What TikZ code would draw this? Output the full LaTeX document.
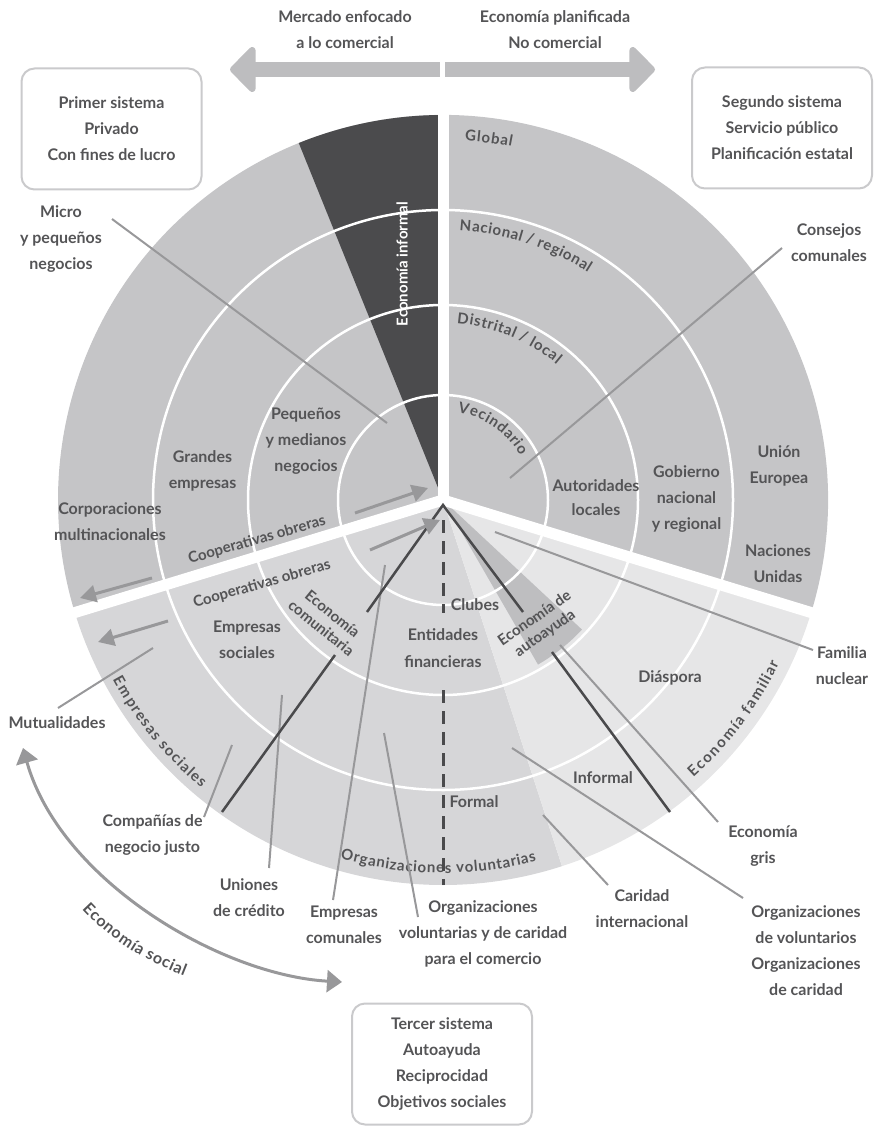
\documentclass[tikz,border=0pt]{standalone}
\usepackage{fontspec}
\setmainfont{Lato}
\usetikzlibrary{arrows.meta,decorations.text}

\definecolor{privgray}{HTML}{C5C5C7}
\definecolor{thirdgray}{HTML}{D6D6D8}
\definecolor{famgray}{HTML}{E6E6E7}
\definecolor{selfgray}{HTML}{BEBEC0}
\definecolor{informal}{HTML}{4B4B4D}
\definecolor{txt}{HTML}{545456}
\definecolor{leadgray}{HTML}{98989A}
\definecolor{darkgray}{HTML}{4A4A4C}
\definecolor{boxgray}{HTML}{CACACC}
\definecolor{topgray}{HTML}{BDBDBF}

\tikzset{
  lbl/.style={text=txt, font=\bfseries\fontsize{16}{26}\selectfont, align=center, inner sep=0pt},
  tight/.style={lbl, font=\bfseries\fontsize{15}{18}\selectfont},
  sysbox/.style={lbl, draw=boxgray, line width=2pt, rounded corners=13pt,
    minimum width=180pt, minimum height=121pt},
  ring/.style={white, line width=2.5pt},
  gap/.style={white, line width=11pt},
  leader/.style={leadgray, line width=2pt},
  darkleader/.style={darkgray, line width=2.5pt},
  flow/.style={leadgray, line width=3pt, -{Triangle[length=16pt,width=17pt]}},
  curved/.style={decorate, decoration={text effects along path, text={#1}, text align=left,
    text effects/.cd, text along path, fit text to path,
    characters={text=txt, inner sep=0pt, anchor=base, font=\bfseries\fontsize{15}{18}\selectfont}}},
  curvedbig/.style={decorate, decoration={text effects along path, text={#1}, text align=left,
    text effects/.cd, text along path, fit text to path,
    characters={text=txt, inner sep=0pt, anchor=base, font=\bfseries\fontsize{16}{18}\selectfont}}},
}

\begin{document}
\begin{tikzpicture}[x=1pt,y=-1pt]
\useasboundingbox (0,0) rectangle (874,1126);

% the wheel
\begin{scope}[shift={(443,500)}, x=1pt, y=1pt]
  \fill[privgray] (0,0) -- (-17:385) arc[start angle=-17, end angle=197, radius=385] -- cycle;
  \fill[thirdgray] (0,0) -- (197:385) arc[start angle=197, end angle=288, radius=385] -- cycle;
  \fill[famgray] (0,0) -- (288:385) arc[start angle=288, end angle=343, radius=385] -- cycle;
  \fill[selfgray] (0,0) -- (300:190) arc[start angle=300, end angle=317, radius=190] -- cycle;
  \fill[informal] (0,0) -- (90:385) arc[start angle=90, end angle=112, radius=385] -- cycle;
  \foreach \r in {105,195,290}
    \draw[ring] (0,0) circle[radius=\r];
  \foreach \a in {90,197,343}
    \draw[gap] (0,0) -- (\a:392);

  % curved labels
  \path[curved={Global}] (86.5:360) arc[start angle=86.5, end angle=79, radius=360];
  \path[curved={Nacional / regional}] (86.5:270) arc[start angle=86.5, end angle=57.5, radius=270];
  \path[curved={Distrital / local}] (85.5:177) arc[start angle=85.5, end angle=50, radius=177];
  \path[curved={Vecindario}] (80.5:89) arc[start angle=80.5, end angle=30, radius=89];
  \path[curved={Empresas sociales}] (208.5:376) arc[start angle=208.5, end angle=230, radius=376];
  \path[curved={Organizaciones voluntarias}] (254:373) arc[start angle=254, end angle=284.5, radius=373];
  \path[curved={Economía familiar}] (-48:374) arc[start angle=-48, end angle=-26, radius=374];
\end{scope}

% top arrows
\coordinate (left-end) at (440,69.5);
\coordinate (left-tip) at (230,69.5);
\coordinate (right-end) at (445,69.5);
\coordinate (right-tip) at (655,69.5);
\draw[topgray, line width=15pt, -{Triangle[length=27pt,width=53pt,round]}] (left-end) -- (left-tip);
\draw[topgray, line width=15pt, -{Triangle[length=27pt,width=53pt,round]}] (right-end) -- (right-tip);

\node[lbl] (market) at (345,29.5) {Mercado enfocado\\a lo comercial};
\node[lbl] (planned) at (555,29.5) {Economía planificada\\No comercial};

% the three systems
\node[sysbox] (first) at (111.5,129) {Primer sistema\\Privado\\Con fines de lucro};
\node[sysbox] (second) at (782,128) {Segundo sistema\\Servicio público\\Planificación estatal};
\node[sysbox] (third) at (442,1064) {Tercer sistema\\Autoayuda\\Reciprocidad\\Objetivos sociales};

% labels inside the wheel
\node[lbl] (corp) at (110,521.5) {Corporaciones\\multinacionales};
\node[lbl] (large) at (202.5,470.5) {Grandes\\empresas};
\node[lbl] (sme) at (306,441) {Pequeños\\y medianos\\negocios};
\node[lbl, text=white, font=\bfseries\fontsize{15}{18}\selectfont, rotate=90] (informal) at (402,264) {Economía informal};
\node[lbl] (gov) at (686.5,499) {Gobierno\\nacional\\y regional};
\node[lbl] (eu) at (779,465.5) {Unión\\Europea};
\node[lbl] (un) at (778,564) {Naciones\\Unidas};
\node[lbl, font=\bfseries\fontsize{16}{24}\selectfont] (localauth) at (596,498) {Autoridades\\locales};
\node[lbl] (diaspora) at (670,678) {Diáspora};
\node[lbl] (inf) at (603,778) {Informal};
\node[lbl] (formal) at (474,802) {Formal};
\node[lbl] (clubs) at (475,605) {Clubes};
\node[lbl, font=\bfseries\fontsize{16}{27}\selectfont] (finance) at (443,648.5) {Entidades\\financieras};
\node[lbl] (socent) at (247,640) {Empresas\\sociales};
\node[tight, rotate=-39] (community) at (327,621) {Economía\\comunitaria};
\node[tight, rotate=35] (selfhelp) at (540,626) {Economía de\\autoayuda};
\node[tight, rotate=16] (coop-a) at (257,540) {Cooperativas obreras};
\node[tight, rotate=16] (coop-b) at (262,584) {Cooperativas obreras};

% labels outside the wheel
\node[lbl] (micro) at (61,239) {Micro\\y pequeños\\negocios};
\node[lbl] (councils) at (829,242.5) {Consejos\\comunales};
\node[lbl] (family) at (842,666) {Familia\\nuclear};
\node[lbl] (grey) at (763,846.5) {Economía\\gris};
\node[lbl] (volorg) at (806,950.5) {Organizaciones\\de voluntarios\\Organizaciones\\de caridad};
\node[lbl] (charity) at (642,909) {Caridad\\internacional};
\node[lbl] (tradeorg) at (483,934) {Organizaciones\\voluntarias y de caridad\\para el comercio};
\node[lbl] (commfirm) at (344,925) {Empresas\\comunales};
\node[lbl] (credit) at (249,897.5) {Uniones\\de crédito};
\node[lbl] (fairtrade) at (152.5,835) {Compañías de\\negocio justo};
\node[lbl] (mutual) at (57,723) {Mutualidades};

% leader lines
\coordinate (micro-a) at (112,219);   \coordinate (micro-b) at (387,423);
\coordinate (councils-a) at (782,248); \coordinate (councils-b) at (510,478);
\coordinate (family-a) at (813,650);  \coordinate (family-b) at (495,532);
\coordinate (grey-a) at (718,822);    \coordinate (grey-b) at (560,645);
\coordinate (volorg-a) at (743,898);  \coordinate (volorg-b) at (512,748);
\coordinate (charity-a) at (608,885); \coordinate (charity-b) at (543,815);
\coordinate (tradeorg-a) at (418,917); \coordinate (tradeorg-b) at (384,733);
\coordinate (commfirm-a) at (333,900); \coordinate (commfirm-b) at (385,565);
\coordinate (credit-a) at (269,868);  \coordinate (credit-b) at (282,695);
\coordinate (fairtrade-a) at (204,817); \coordinate (fairtrade-b) at (232,745);
\coordinate (mutual-a) at (58,708);   \coordinate (mutual-b) at (153,648);
\foreach \n in {micro,councils,family,grey,volorg,charity,tradeorg,commfirm,credit,fairtrade,mutual}
  \draw[leader] (\n-a) -- (\n-b);

% dark lines and the dashed divide
\coordinate (apex) at (443,505);
\coordinate (fair-end) at (222,812);
\coordinate (fair-gap1) at (335,655);
\coordinate (fair-gap2) at (367,612);
\coordinate (grey-end) at (670,812);
\coordinate (grey-gap1) at (523,612);
\coordinate (grey-gap2) at (552,652);
\draw[darkleader] (fair-end) -- (fair-gap1) (fair-gap2) -- (apex) -- (grey-gap1) (grey-gap2) -- (grey-end);
\coordinate (dash-a) at (443,520); \coordinate (dash-b) at (443,613);
\coordinate (dash-c) at (443,690); \coordinate (dash-d) at (443,885);
\draw[darkgray, line width=3pt, dash pattern=on 13pt off 8pt] (dash-a) -- (dash-b) (dash-c) -- (dash-d);

% flows
\coordinate (coop-in-a) at (355,513);  \coordinate (coop-in-b) at (428,488);
\coordinate (coop-out-a) at (152,578); \coordinate (coop-out-b) at (80,598);
\coordinate (soc-in-a) at (370,550);   \coordinate (soc-in-b) at (440,520);
\coordinate (soc-out-a) at (168,621);  \coordinate (soc-out-b) at (98,642);
\draw[flow] (coop-in-a) -- (coop-in-b);
\draw[flow] (coop-out-a) -- (coop-out-b);
\draw[flow] (soc-in-a) -- (soc-in-b);
\draw[flow] (soc-out-a) -- (soc-out-b);

% social economy span
\coordinate (social-a) at (23,748);
\coordinate (social-b) at (342,982);
\draw[leadgray, line width=3pt, {Triangle[length=15pt,width=22pt]}-{Triangle[length=15pt,width=22pt]}]
  (social-a) .. controls (60,880) and (220,975) .. (social-b);
\path[curvedbig={Economía social}]
  (82,909) .. controls (108,937) and (138,958) .. (184,976);
\end{tikzpicture}
\end{document}
